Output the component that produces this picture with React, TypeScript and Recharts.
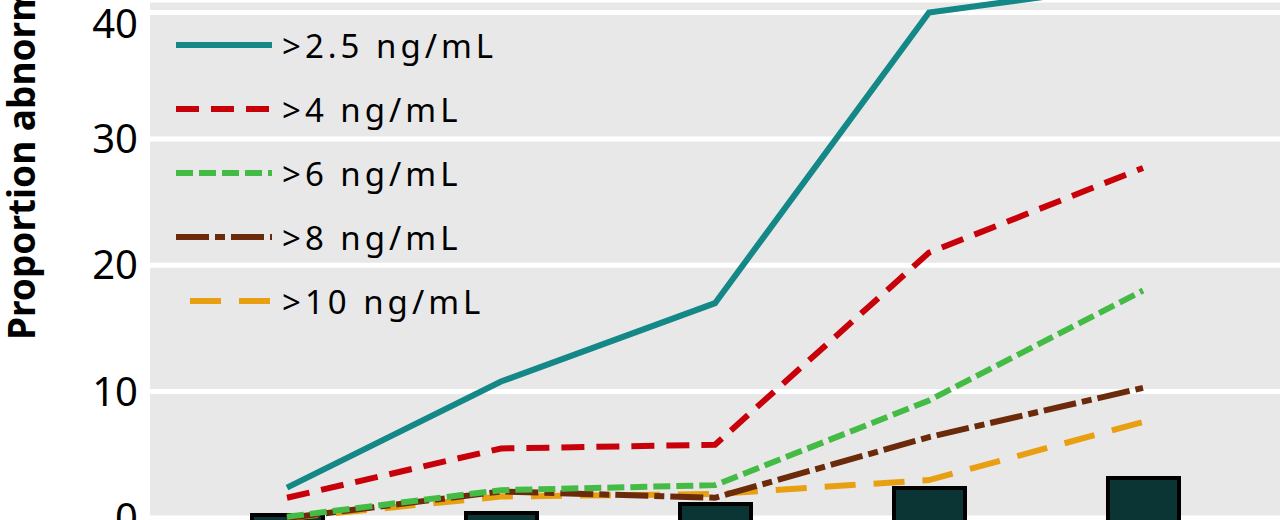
import { Bar, CartesianGrid, ComposedChart, Legend, Line, XAxis, YAxis } from 'recharts'

// categories along the x axis (labels are cut off in the picture)
const groups = ['Group 1', 'Group 2', 'Group 3', 'Group 4', 'Group 5']

// proportion abnormal (%) for each PSA cut-off
const over2_5 = [2.4, 10.8, 17.0, 40.0, 42.3]
const over4 = [1.6, 5.5, 5.8, 21.0, 27.7]
const over6 = [0.1, 2.2, 2.6, 9.3, 18.0]
const over8 = [0.0, 2.1, 1.6, 6.4, 10.3]
const over10 = [0.0, 1.7, 1.9, 3.0, 7.6]

// bars along the bottom (secondary axis, mostly below the visible area)
const counts = [8.5, 8.7, 9.6, 11.2, 12.2]

const yTicks = [0, 10, 20, 30, 40]

const series = [
	{ key: 'over2_5', name: '>2.5 ng/mL', color: '#148787', dash: undefined as string | undefined, legendStart: 0 },
	{ key: 'over4', name: '>4 ng/mL', color: '#c8000a', dash: '23 12', legendStart: 0 },
	{ key: 'over6', name: '>6 ng/mL', color: '#44bb44', dash: '17 6', legendStart: 0 },
	{ key: 'over8', name: '>8 ng/mL', color: '#6b2a0a', dash: '33 6 10 6', legendStart: 0 },
	{ key: 'over10', name: '>10 ng/mL', color: '#e8a012', dash: '31 18', legendStart: 14 },
]

const data = groups.map((g, i) => ({
	group: g,
	over2_5: over2_5[i],
	over4: over4[i],
	over6: over6[i],
	over8: over8[i],
	over10: over10[i],
	count: counts[i],
}))

const font = "'Noto Sans', 'Open Sans', sans-serif"

//* legend with line samples
const CustomLegend = () => (
	<div style={{ fontFamily: font }}>
		{series.map((s) => (
			<div key={s.key} style={{ display: 'flex', alignItems: 'center', height: 64 }}>
				<svg width={106} height={10} style={{ display: 'block' }}>
					<line x1={s.legendStart} x2={96} y1={5} y2={5} stroke={s.color} strokeWidth={6} strokeDasharray={s.dash} />
				</svg>
				<span style={{ fontSize: 33, letterSpacing: 4, color: '#000', lineHeight: 1, whiteSpace: 'nowrap' }}>{s.name}</span>
			</div>
		))}
	</div>
)

const YLabel = () => (
	<text x={35} y={340} transform='rotate(-90, 35, 340)' fontFamily={font} fontWeight='bold' fontSize={37} fill='#000'>
		Proportion abnormal (%)
	</text>
)

export default function App() {
	return (
		<div style={{ position: 'fixed', left: 0, top: 0, width: 1280, height: 520, overflow: 'hidden', background: '#fff' }}>
			<ComposedChart width={1300} height={600} data={data} margin={{ top: 0, right: 0, bottom: 0, left: 0 }}>
				<CartesianGrid yAxisId='left' vertical={false} fill='#e8e8e8' stroke='#ffffff' strokeWidth={5} />
				<XAxis dataKey='group' hide padding={{ left: 30, right: 50 }} />
				<YAxis
					yAxisId='left'
					width={150}
					domain={[-6.49, 40.99]}
					allowDataOverflow
					ticks={yTicks}
					axisLine={false}
					tickLine={false}
					tickSize={0}
					tickMargin={12}
					tick={{ fontSize: 40, fill: '#000', fontFamily: font }}
				/>
				<YAxis yAxisId='bar' orientation='right' hide width={0} domain={[0, 60]} allowDataOverflow />
				<Bar yAxisId='bar' dataKey='count' barSize={71} fill='#0b3434' stroke='#000' strokeWidth={4} isAnimationActive={false} />
				{series
					.slice()
					.reverse()
					.map((s) => (
						<Line
							key={s.key}
							yAxisId='left'
							type='linear'
							dataKey={s.key}
							name={s.name}
							stroke={s.color}
							strokeWidth={6}
							strokeDasharray={s.dash}
							dot={false}
							activeDot={false}
							isAnimationActive={false}
						/>
					))}
				<Legend
					layout='vertical'
					align='center'
					verticalAlign='middle'
					content={<CustomLegend />}
					wrapperStyle={{ position: 'absolute', left: 176, top: 13, width: 380 }}
				/>
				<YLabel />
			</ComposedChart>
		</div>
	)
}
